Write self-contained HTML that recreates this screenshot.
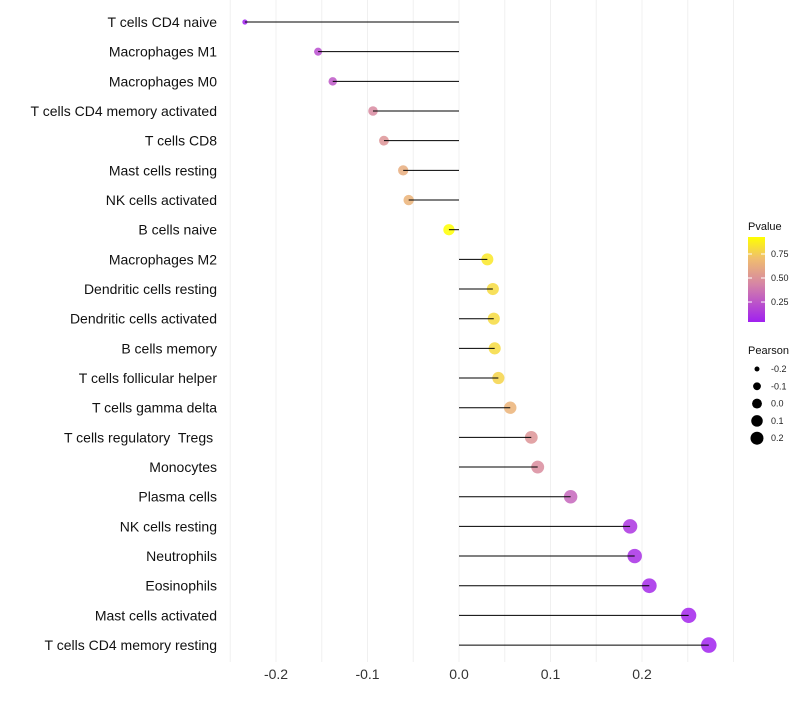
<!DOCTYPE html>
<html><head><meta charset="utf-8"><style>
body{margin:0;background:#fff;font-family:"Liberation Sans",sans-serif}
text{white-space:pre}
</style></head><body>
<svg id="c" width="800" height="700" xmlns="http://www.w3.org/2000/svg"></svg>
<script>
const categories=["T cells CD4 naive","Macrophages M1","Macrophages M0","T cells CD4 memory activated","T cells CD8","Mast cells resting","NK cells activated","B cells naive","Macrophages M2","Dendritic cells resting","Dendritic cells activated","B cells memory","T cells follicular helper","T cells gamma delta","T cells regulatory  Tregs ","Monocytes","Plasma cells","NK cells resting","Neutrophils","Eosinophils","Mast cells activated","T cells CD4 memory resting"];
const pearson=[-0.234,-0.154,-0.138,-0.094,-0.082,-0.061,-0.055,-0.011,0.031,0.037,0.038,0.039,0.043,0.056,0.079,0.086,0.122,0.187,0.192,0.208,0.251,0.273];
const pvalue=[0.02,0.2,0.24,0.45,0.5,0.62,0.65,0.93,0.85,0.8,0.8,0.8,0.78,0.65,0.5,0.46,0.3,0.1,0.08,0.06,0.04,0.03];
const xTicks=[-0.2,-0.1,0.0,0.1,0.2];
const pTicks=[0.25,0.5,0.75];
const sizeTicks=[-0.2,-0.1,0.0,0.1,0.2];
const svg=document.getElementById('c');
const NS='http://www.w3.org/2000/svg';
function mk(t,a,p){const e=document.createElementNS(NS,t);for(const k in a)e.setAttribute(k,a[k]);(p||svg).appendChild(e);return e;}
const x=v=>459+v*915;
const y=i=>22+i*29.67;
const r=v=>Math.sqrt(Math.max(3,24.25+90*v));
const rd=v=>r(v)+0.8;
const pMin=0.02,pMax=0.93;
const stops=[[0,[160,32,240]],[0.45,[214,134,164]],[0.75,[240,190,110]],[1,[255,255,0]]];
function col(p){let t=(p-pMin)/(pMax-pMin);t=Math.max(0,Math.min(1,t));for(let i=1;i<stops.length;i++){if(t<=stops[i][0]){const a=stops[i-1],b=stops[i];const f=(t-a[0])/(b[0]-a[0]);const c=a[1].map((v,j)=>Math.round(v+(b[1][j]-v)*f));return `rgb(${c})`;}}return 'rgb(255,255,0)';}
for(let v=-0.25;v<=0.301;v+=0.05){const g=mk('line',{x1:x(v),x2:x(v),y1:0,y2:662,stroke:'#f0f0f0','stroke-width':1});
}
xTicks.forEach(v=>{const t=mk('text',{x:x(v),y:679,'text-anchor':'middle','font-size':14,fill:'#333'});t.textContent=v.toFixed(1);
});
categories.forEach((c,i)=>{
const t=mk('text',{x:217,y:y(i)+5,'text-anchor':'end','font-size':14,fill:'#111'});t.textContent=c;

const d=mk('circle',{cx:x(pearson[i]),cy:y(i),r:rd(pearson[i]),fill:col(pvalue[i]),'fill-opacity':0.85});

const l=mk('line',{x1:x(0),x2:x(pearson[i]),y1:y(i),y2:y(i),stroke:'#000','stroke-width':1});

});
const defs=mk('defs',{});const lg=mk('linearGradient',{id:'pg',x1:0,y1:1,x2:0,y2:0},defs);
stops.forEach(s=>mk('stop',{offset:s[0],'stop-color':`rgb(${s[1]})`},lg));
const lt=mk('text',{x:748,y:230,'font-size':11,fill:'#111'});lt.textContent='Pvalue';

const bar=mk('rect',{x:748,y:237,width:17,height:85,fill:'url(#pg)'});

const py=p=>322-(p-0.042)/(0.927-0.042)*85;
pTicks.forEach(p=>{mk('line',{x1:748,x2:752,y1:py(p),y2:py(p),stroke:'#fff'});mk('line',{x1:761,x2:765,y1:py(p),y2:py(p),stroke:'#fff'});
const t=mk('text',{x:771,y:py(p)+3,'font-size':9,fill:'#222'});t.textContent=p.toFixed(2);
});
const st=mk('text',{x:748,y:354,'font-size':11,fill:'#111'});st.textContent='Pearson';

sizeTicks.forEach((v,i)=>{const cy=369+i*17.3;const c=mk('circle',{cx:757,cy:cy,r:r(v),fill:'#000'});

const t=mk('text',{x:771,y:cy+3,'font-size':9,fill:'#222'});t.textContent=v.toFixed(1);
});
</script>
</body></html>
